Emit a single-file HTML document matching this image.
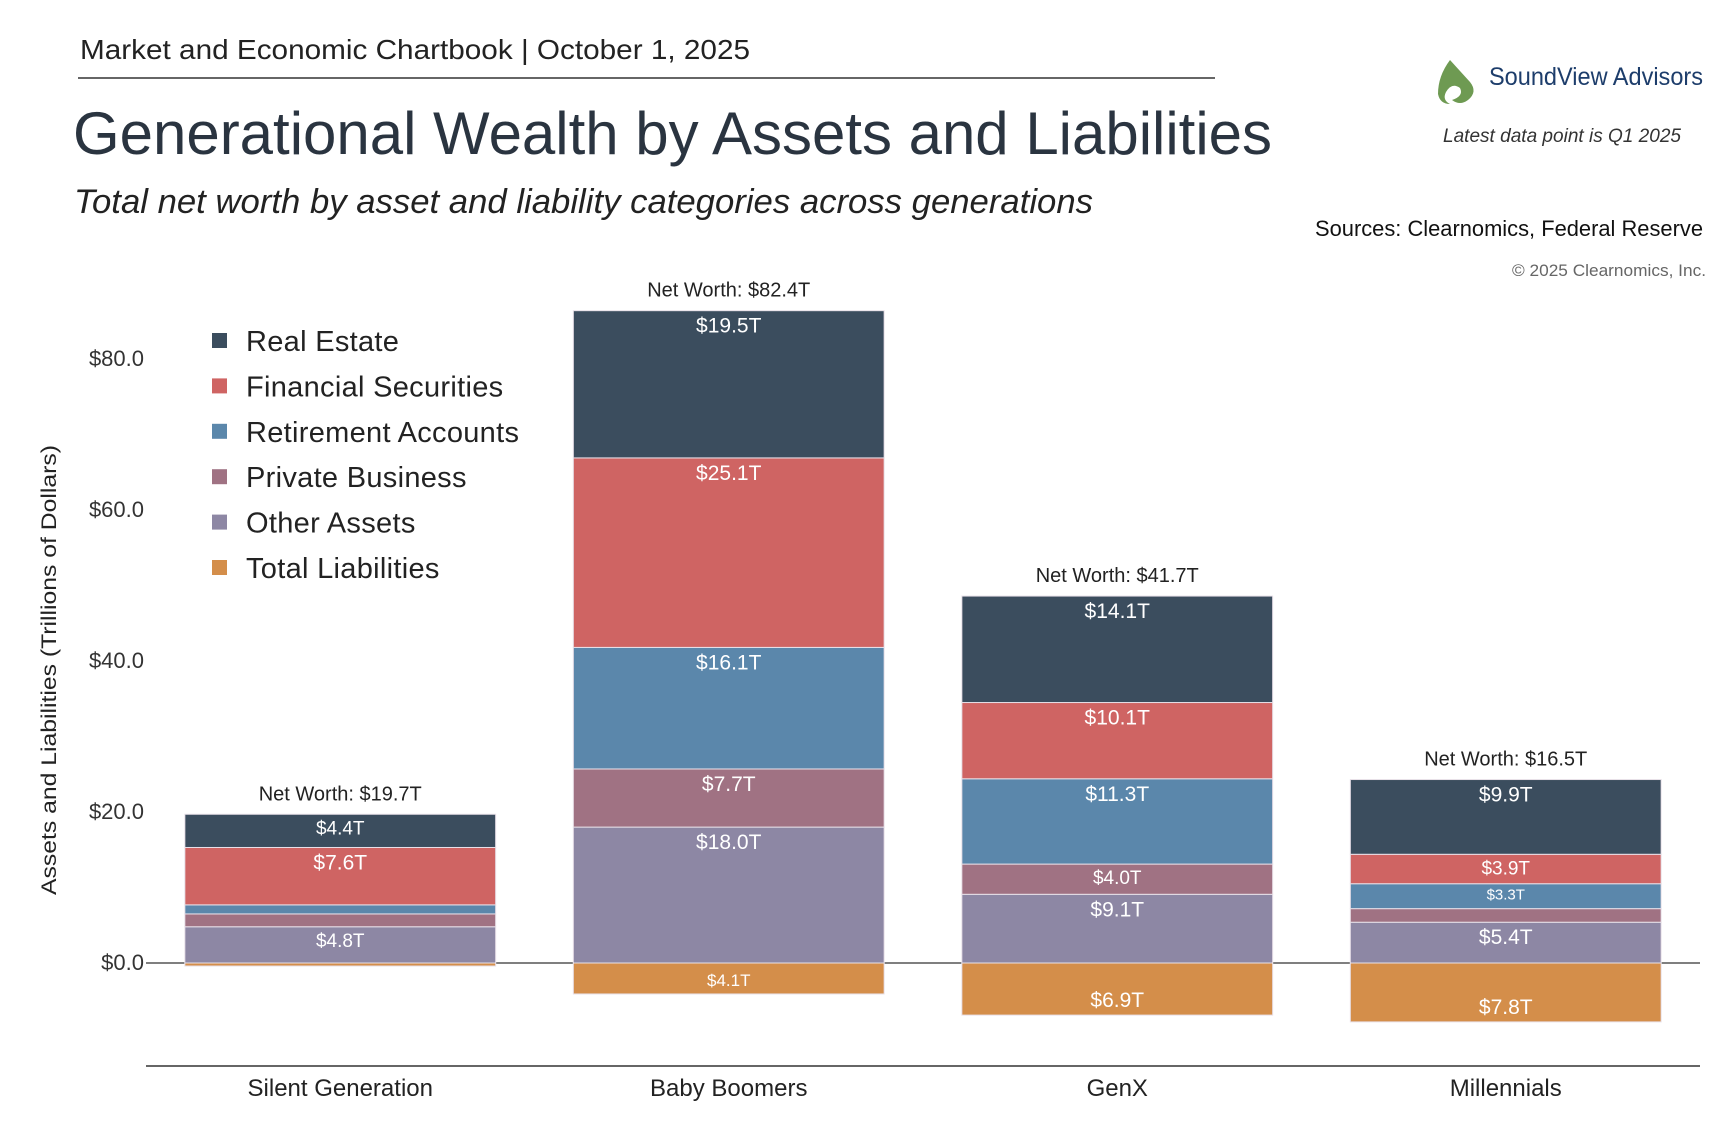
<!DOCTYPE html>
<html><head><meta charset="utf-8"><style>
html,body{margin:0;padding:0;background:#fff;}
svg{display:block;font-family:"Liberation Sans",sans-serif;}
</style></head><body>
<svg id="chart" width="1728" height="1126" viewBox="0 0 1728 1126">
<text x="80" y="59" font-size="28" fill="#222" textLength="670" lengthAdjust="spacingAndGlyphs">Market and Economic Chartbook | October 1, 2025</text>
<line x1="78" y1="78" x2="1215" y2="78" stroke="#333" stroke-width="1.5"/>
<text x="73" y="154" font-size="60" fill="#2a3440" textLength="1199" lengthAdjust="spacingAndGlyphs">Generational Wealth by Assets and Liabilities</text>
<text x="74" y="213" font-size="34" font-style="italic" fill="#222" textLength="1019" lengthAdjust="spacingAndGlyphs">Total net worth by asset and liability categories across generations</text>
<g>
<path d="M1450 60 L1470 82 Q1478 92 1468 100 Q1460 106 1452 100 Q1464 96 1460 88 Q1452 82 1446 92 Q1442 100 1450 104 Q1440 104 1438 94 Q1438 76 1450 60Z" fill="#6e9a52"/>
<text x="1489" y="85" font-size="25" fill="#1d3d6b" textLength="214" lengthAdjust="spacingAndGlyphs">SoundView Advisors</text>
</g>
<text x="1562" y="142" font-size="19" font-style="italic" fill="#333" text-anchor="middle" textLength="238" lengthAdjust="spacingAndGlyphs">Latest data point is Q1 2025</text>
<text x="1703" y="236" font-size="22" fill="#111" text-anchor="end" textLength="388" lengthAdjust="spacingAndGlyphs">Sources: Clearnomics, Federal Reserve</text>
<text x="1706" y="276" font-size="17" fill="#666" text-anchor="end" textLength="194" lengthAdjust="spacingAndGlyphs">© 2025 Clearnomics, Inc.</text>
<text transform="translate(56,670) rotate(-90)" font-size="21" fill="#222" text-anchor="middle" textLength="450" lengthAdjust="spacingAndGlyphs">Assets and Liabilities (Trillions of Dollars)</text>
<g id="plot"></g>
</svg>
<script>
const categories = ["Silent Generation","Baby Boomers","GenX","Millennials"];
const seriesNames = ["Real Estate","Financial Securities","Retirement Accounts","Private Business","Other Assets","Total Liabilities"];
const realEstate = [4.4,19.5,14.1,9.9];
const financialSecurities = [7.6,25.1,10.1,3.9];
const retirementAccounts = [1.2,16.1,11.3,3.3];
const privateBusiness = [1.7,7.7,4.0,1.8];
const otherAssets = [4.8,18.0,9.1,5.4];
const totalLiabilities = [0.4,4.1,6.9,7.8];
const netWorth = [19.7,82.4,41.7,16.5];
const yTicks = [0,20,40,60,80];
const colors = ["#3b4d5e","#cf6463","#5b87ab","#a07283","#8d87a4","#d48e4a"];

const NS="http://www.w3.org/2000/svg";
const plot=document.getElementById('plot');
const X0=146,X1=1700,Y0=963,PX=7.55;
const y=v=>Y0-v*PX;
const band=(X1-X0)/categories.length;
const xc=i=>X0+band*(i+0.5);
const bw=band*0.8;
function mk(tag,attrs,parent){const e=document.createElementNS(NS,tag);for(const k in attrs)e.setAttribute(k,attrs[k]);(parent||plot).appendChild(e);return e;}
yTicks.forEach(t=>{
  const tx=mk('text',{x:144,y:y(t)+7,'font-size':22,fill:'#333','text-anchor':'end'});
  
  
  tx.textContent='$'+t.toFixed(1);
});
const zl=mk('line',{x1:X0,y1:Y0,x2:X1,y2:Y0,stroke:'#555','stroke-width':1.5});


const bl=mk('line',{x1:X0,y1:1066,x2:X1,y2:1066,stroke:'#333','stroke-width':1.5});


const pos=[realEstate,financialSecurities,retirementAccounts,privateBusiness,otherAssets];
categories.forEach((c,i)=>{
  const x=xc(i)-bw/2;
  let cum=0;
  const segs=[];
  for(let s=4;s>=0;s--){segs.push([s,cum,cum+pos[s][i]]);cum+=pos[s][i];}
  segs.forEach(([s,a,b])=>{
    const r=mk('rect',{x:x,y:y(b),width:bw,height:y(a)-y(b),fill:colors[s],stroke:'#e8e0e8','stroke-width':1});
    
    
    const h=y(a)-y(b);
    if(h>=20){
      const fs=h>=40?21:(h>=28?19:15);
      const t=mk('text',{x:xc(i),y:y(b)+fs+1,'font-size':fs,fill:'#fff','text-anchor':'middle'});
      
      
      t.textContent='$'+pos[s][i].toFixed(1)+'T';
    }
  });
  const L=totalLiabilities[i];
  const lr=mk('rect',{x:x,y:Y0,width:bw,height:y(-L)-Y0,fill:colors[5],stroke:'#e8e0e8','stroke-width':1});
  
  
  const lh=y(-L)-Y0;
  if(lh>=20){
    const fs=lh>=40?21:17;
    const t=mk('text',{x:xc(i),y:y(-L)-8,'font-size':fs,fill:'#fff','text-anchor':'middle'});
    
    
    t.textContent='$'+L.toFixed(1)+'T';
  }
  const nw=mk('text',{x:xc(i),y:y(cum)-14,'font-size':20,fill:'#222','text-anchor':'middle'});
  
  
  nw.textContent='Net Worth: $'+netWorth[i].toFixed(1)+'T';
  const cl=mk('text',{x:xc(i),y:1096,'font-size':24,fill:'#222','text-anchor':'middle'});
  
  
  cl.textContent=c;
});
seriesNames.forEach((n,k)=>{
  const yy=341+k*45.4;
  const g=mk('g',{});
  
  
  mk('rect',{x:212,y:yy-8,width:15,height:15,fill:colors[k]},g);
  const t=mk('text',{x:246,y:yy+10,'font-size':29,fill:'#222','letter-spacing':'0.3'},g);
  t.textContent=n;
});
</script>
</body></html>
